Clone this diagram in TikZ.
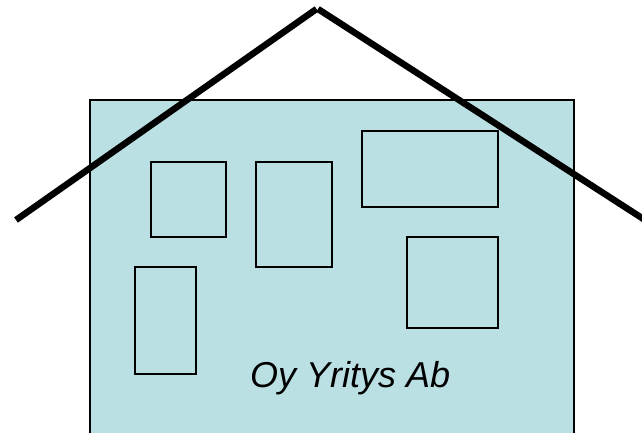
\documentclass[tikz,border=0pt]{standalone}
\usepackage{fontspec}
\setmainfont{Liberation Sans}
\definecolor{wallblue}{RGB}{187,224,227}
\tikzset{
  wall/.style={fill=wallblue, draw=black, line width=1.5pt},
  window/.style={draw=black, line width=1.5pt},
  roof/.style={draw=black, line width=6.5pt, line cap=butt}
}
\begin{document}
\begin{tikzpicture}[x=1pt, y=-1pt]
\useasboundingbox (0,0) rectangle (642,432);
\begin{scope}
\clip (0,0) rectangle (642,432);
% wall
\draw[wall] (90,440) -- (90,100) -- (574,100) -- (574,440);
% windows
\draw[window] (151,162) rectangle (226,237);
\draw[window] (256,162) rectangle (332,267);
\draw[window] (362,131) rectangle (498,207);
\draw[window] (407,237) rectangle (498,328);
\draw[window] (135,267) rectangle (196,374);
% label
\node[anchor=base west, inner sep=0pt, font=\fontsize{36}{40}\selectfont\itshape] (label) at (250,387) {Oy Yritys Ab};
% roof
\coordinate (rl) at (16,220);
\coordinate (apexl) at (316.5,9);
\coordinate (apexr) at (318,9);
\coordinate (rr) at (652,224.5);
\draw[roof] (rl) -- (apexl);
\draw[roof] (apexr) -- (rr);
\end{scope}
\end{tikzpicture}
\end{document}
